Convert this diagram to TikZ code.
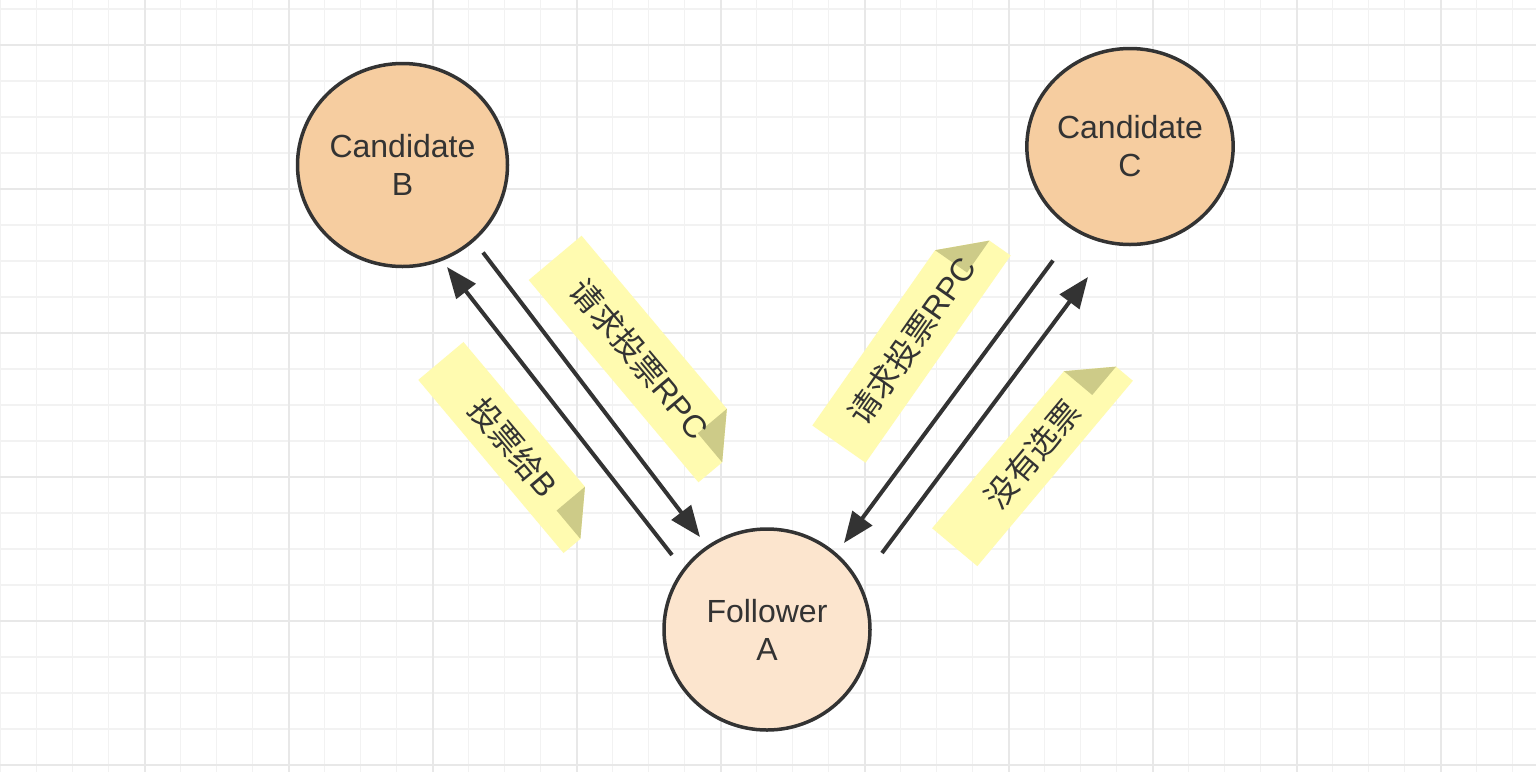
\documentclass[tikz,border=0pt]{standalone}
\usepackage{fontspec}
\setmainfont{Liberation Sans}
\newfontfamily\cjk{Noto Sans CJK SC}
\usetikzlibrary{shapes.geometric,arrows.meta,calc}
\definecolor{ink}{HTML}{333333}
\definecolor{candfill}{HTML}{F6CDA0}
\definecolor{follfill}{HTML}{FCE5CE}
\definecolor{noteyellow}{HTML}{FFFBB0}
\definecolor{notefoldc}{HTML}{CDCB88}
\definecolor{gridminorc}{HTML}{F2F2F2}
\definecolor{gridmajorc}{HTML}{E8E8E8}
\tikzset{
  gminor/.style={draw=gridminorc, line width=1.5pt},
  gmajor/.style={draw=gridmajorc, line width=2pt},
  stateellipse/.style={ellipse, draw=ink, line width=3.5pt, inner sep=0pt, align=center,
    text=ink, font=\fontsize{32}{38}\selectfont},
  cand/.style={stateellipse, fill=candfill},
  foll/.style={stateellipse, fill=follfill},
  notebody/.style={fill=noteyellow},
  notefold/.style={fill=notefoldc},
  notetext/.style={text=ink, font=\fontsize{32}{36}\selectfont, inner sep=0pt},
  arr/.style={draw=ink, line width=4pt, -{Triangle[length=31pt,width=24pt]}}
}
% #1 name, #2 cx, #3 cy, #4 angle, #5 half length, #6 half width, #7 fold, #8 text
\newcommand\stickynote[8]{%
\begin{scope}[shift={(#2,#3)},rotate=#4]
\path[notebody] ({-#5*1pt},{-#6*1pt}) -- ({#5*1pt},{-#6*1pt}) -- ({#5*1pt},{(#6-#7)*1pt})
  -- ({(#5-#7)*1pt},{#6*1pt}) -- ({-#5*1pt},{#6*1pt}) -- cycle;
\path[notefold] ({#5*1pt},{(#6-#7)*1pt}) -- ({(#5-#7)*1pt},{#6*1pt})
  -- ({(#5-#7)*1pt},{(#6-#7)*1pt}) -- cycle;
\node[notetext, rotate=#4] (#1) at (0,0) {#8};
\end{scope}}
\begin{document}
\begin{tikzpicture}[x=1pt,y=-1pt]
\useasboundingbox (0,0) rectangle (1536,772);
\fill[white] (0,0) rectangle (1536,772);
% grid
\foreach \i in {0,...,42} \draw[gminor] ({0.7+36*\i},0) -- ({0.7+36*\i},772);
\foreach \j in {0,...,21} \draw[gminor] (0,{9+36*\j}) -- (1536,{9+36*\j});
\foreach \i in {0,...,9} \draw[gmajor] ({144.7+144*\i},0) -- ({144.7+144*\i},772);
\foreach \j in {0,...,5} \draw[gmajor] (0,{45+144*\j}) -- (1536,{45+144*\j});
% notes
\stickynote{n1}{640}{359}{-50}{132}{34.5}{38}{{\cjk 请求投票}RPC}
\stickynote{n2}{513.5}{447.5}{-50}{113}{29.5}{37}{{\cjk 投票给}B}
\stickynote{n3}{911.5}{340.5}{55}{126.5}{32.5}{39}{{\cjk 请求投票}RPC}
\stickynote{n4}{1032.5}{454.5}{50}{121}{29.5}{37}{{\cjk 没有选票}}
% states
\node[cand, minimum width=210pt, minimum height=203pt] (B) at (402.5,165) {Candidate\\B};
\node[cand, minimum width=202pt, minimum height=196pt] (C) at (1130,146.5) {Candidate\\C};
\node[foll, minimum width=206pt, minimum height=201pt] (A) at (767,629.5) {Follower\\A};
% arrows
\draw[arr] ($(A.center)+(-95,-74.5)$) -- ($(B.center)+(44.5,102)$);
\draw[arr] ($(B.center)+(80.5,87.5)$) -- ($(A.center)+(-67,-92.5)$);
\draw[arr] ($(C.center)+(-77,114)$) -- ($(A.center)+(77,-86.5)$);
\draw[arr] ($(A.center)+(115,-76.5)$) -- ($(C.center)+(-42,130.5)$);
\end{tikzpicture}
\end{document}
